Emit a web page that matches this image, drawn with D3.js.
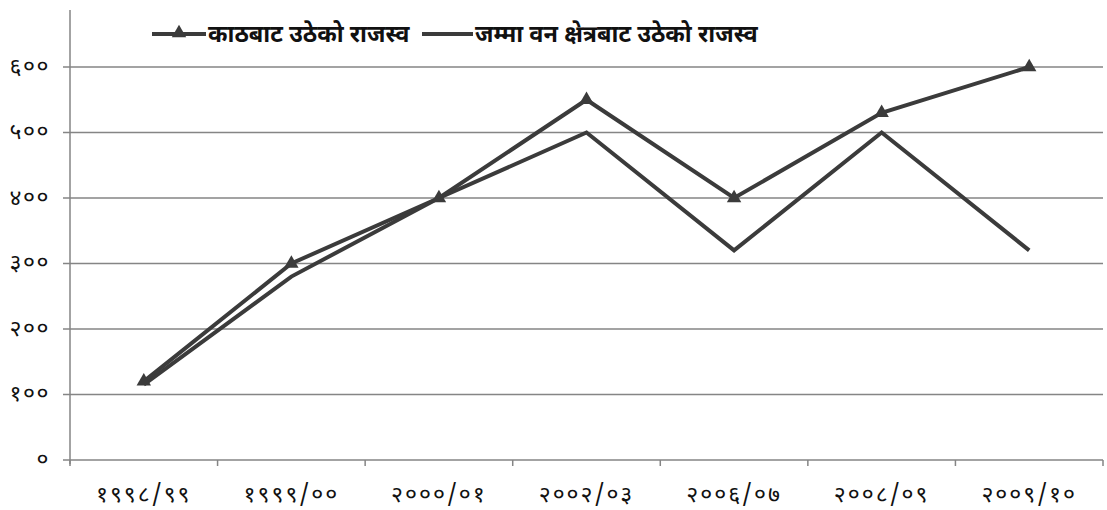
<!DOCTYPE html>
<html>
<head>
<meta charset="utf-8">
<script src="https://cdn.jsdelivr.net/npm/d3@7"></script>
<style>
body{margin:0;background:#fff;}
svg text{font-family:"Noto Sans Devanagari","Lohit Devanagari","Noto Sans","DejaVu Sans",sans-serif;}
</style>
</head>
<body>
<svg width="1107" height="510"></svg>
<script>
//数据
var categories=["१९९८/९९","१९९९/००","२०००/०१","२००२/०३","२००६/०७","२००८/०९","२००९/१०"];
var kathValues=[120,300,400,550,400,530,600];
var totalValues=[115,280,400,500,320,500,320];
var seriesNames=["काठबाट उठेको राजस्व","जम्मा वन क्षेत्रबाट उठेको राजस्व"];
var yTicks=[0,100,200,300,400,500,600];
var devDigits="०१२३४५६७८९";
var toDev=function(n){return String(n).replace(/[0-9]/g,function(c){return devDigits[+c];});};

var svg=d3.select("svg"),
    margin={top:10,right:4,bottom:50,left:70},
    width=+svg.attr("width")-margin.left-margin.right,
    height=+svg.attr("height")-margin.top-margin.bottom,
    g=svg.append("g").attr("transform","translate("+margin.left+","+margin.top+")");

var x=d3.scaleBand().domain(categories).range([0,width]);
var y=d3.scaleLinear().domain([0,687]).range([height,0]);

//网格线
g.selectAll(".grid").data(yTicks).enter().append("line")
  .attr("x1",-7).attr("x2",width)
  .attr("y1",function(d){return y(d);}).attr("y2",function(d){return y(d);})
  .attr("stroke","#858585").attr("stroke-width",1.5);
//y轴
g.append("line").attr("x1",0).attr("x2",0).attr("y1",0).attr("y2",height+4)
  .attr("stroke","#858585").attr("stroke-width",1.5);
g.selectAll(".ylab").data(yTicks).enter().append("text")
  .attr("x",-20).attr("y",function(d){return y(d);}).attr("dy","0.3em")
  .attr("text-anchor","end").attr("font-size",23).attr("letter-spacing",1.5).attr("fill","#111")
  .text(function(d){return toDev(d);});
//x轴刻度
var xt=categories.map(function(c){return x(c);}).concat([width]);
g.selectAll(".xtick").data(xt).enter().append("line")
  .attr("x1",function(d){return d;}).attr("x2",function(d){return d;})
  .attr("y1",height).attr("y2",height+6)
  .attr("stroke","#858585").attr("stroke-width",1.5);
g.selectAll(".xlab").data(categories).enter().append("text")
  .attr("x",function(d){return x(d)+x.bandwidth()/2;}).attr("y",height+42)
  .attr("text-anchor","middle").attr("font-size",23).attr("letter-spacing",2).attr("fill","#111")
  .text(function(d){return d;});

//折线
var cx=function(d,i){return x(categories[i])+x.bandwidth()/2;};
var line=d3.line().x(cx).y(function(d){return y(d);});
var lineColor="#3b3b3b";
g.append("path").datum(totalValues).attr("fill","none").attr("stroke",lineColor)
  .attr("stroke-width",4).attr("stroke-linejoin","miter").attr("d",line);
g.append("path").datum(kathValues).attr("fill","none").attr("stroke",lineColor)
  .attr("stroke-width",4).attr("stroke-linejoin","miter").attr("d",line);
var tri=d3.symbol().type(d3.symbolTriangle).size(90);
g.selectAll(".mk").data(kathValues).enter().append("path")
  .attr("transform",function(d,i){return "translate("+cx(d,i)+","+y(d)+")";})
  .attr("d",tri).attr("fill",lineColor);

//图例
var leg=svg.append("g");
leg.append("line").attr("x1",152).attr("x2",206).attr("y1",34).attr("y2",34)
  .attr("stroke",lineColor).attr("stroke-width",4);
leg.append("path").attr("transform","translate(179,33)").attr("d",tri).attr("fill",lineColor);
leg.append("text").attr("x",208).attr("y",34).attr("dy","0.35em").attr("font-size",23.5)
  .attr("font-weight","bold").attr("fill","#111").text(seriesNames[0]);
leg.append("line").attr("x1",422).attr("x2",473).attr("y1",34).attr("y2",34)
  .attr("stroke",lineColor).attr("stroke-width",4);
leg.append("text").attr("x",475).attr("y",34).attr("dy","0.35em").attr("font-size",23.5)
  .attr("font-weight","bold").attr("fill","#111").text(seriesNames[1]);
</script>
</body>
</html>
